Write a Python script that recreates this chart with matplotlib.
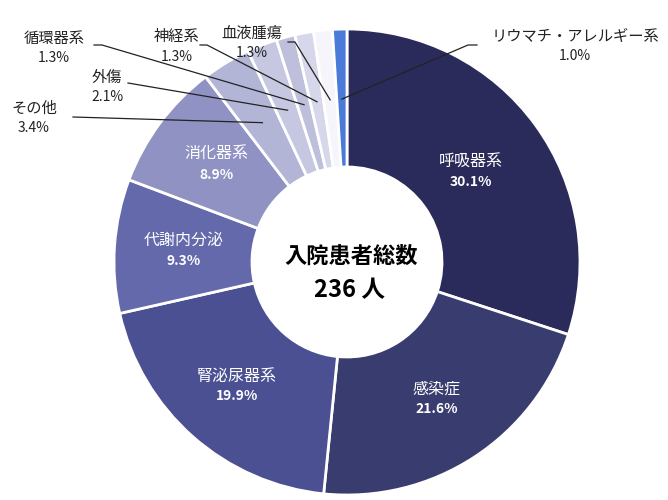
import numpy as np
import matplotlib
matplotlib.use('Agg')
import matplotlib.pyplot as plt

plt.rcParams['font.family'] = ['Noto Sans CJK JP', 'DejaVu Sans']

# 診療科別 入院患者 (%)
categories = ['呼吸器系', '感染症', '腎泌尿器系', '代謝内分泌', '消化器系',
              'その他', '外傷', '循環器系', '神経系', '血液腫瘍',
              'リウマチ・アレルギー系']
shares = [30.1, 21.6, 19.9, 9.3, 8.9, 3.4, 2.1, 1.3, 1.3, 1.3, 1.0]
colors = ['#2B2B5B', '#393C6E', '#4A5091', '#6369AA', '#8F92C3',
          '#B3B5D7', '#C6C8E1', '#BDBFDB', '#D6D7EA', '#F5F5FB', '#4A7BD8']
total_patients = 236

# chart geometry in pixels (figure is 668x500)
W, H = 668, 500
cx, cy = 347, H - 262
r_out, r_in = 233, 95

fig = plt.figure(figsize=(W / 100, H / 100), dpi=100)
ax = fig.add_axes([0, 0, 1, 1])

wedges, _ = ax.pie(shares, colors=colors, startangle=90, counterclock=False,
                   radius=r_out, center=(cx, cy),
                   wedgeprops=dict(width=r_out - r_in, edgecolor='white',
                                   linewidth=2))

def mid_point(w, r):
    a = np.deg2rad((w.theta1 + w.theta2) / 2)
    return cx + r * np.cos(a), cy + r * np.sin(a)

# labels inside the big slices
inner_r = [153, 164, 166, 164, 163]
for i, r in enumerate(inner_r):
    x, y = mid_point(wedges[i], r)
    ax.text(x, y + 10, categories[i], color='white', fontsize=11.5,
            ha='center', va='center')
    ax.text(x, y - 10, f'{shares[i]:.1f}%', color='white', fontsize=10,
            fontweight='bold', ha='center', va='center')

# outside labels: text centre and where its leader line starts (pixels from top)
outer_text = {5: (34, 118), 6: (107, 87), 7: (54, 48), 8: (177, 47),
              9: (252, 43), 10: (575, 46)}
line_start = {5: [(73, 117)], 6: [(128, 83)], 7: [(94, 45), (102, 45)],
              8: [(200, 45), (207, 45)], 9: [(288, 42), (295, 42)],
              10: [(477, 45), (468, 45)]}
for i, (tx, ty) in outer_text.items():
    ax.text(tx, H - ty + 10, categories[i], color='#222222', fontsize=11,
            ha='center', va='center')
    ax.text(tx, H - ty - 10, f'{shares[i]:.1f}%', color='#222222',
            fontsize=10, ha='center', va='center')
    ex, ey = mid_point(wedges[i], 163)
    pts = [(px, H - py) for px, py in line_start[i]] + [(ex, ey)]
    xs, ys = zip(*pts)
    ax.plot(xs, ys, color='#222222', linewidth=0.9)

ax.text(cx + 4, H - 256, '入院患者総数', fontsize=16, fontweight='bold',
        ha='center', va='center', color='black')
ax.text(cx + 2, H - 290, f'{total_patients} 人', fontsize=17, fontweight='bold',
        ha='center', va='center', color='black')

ax.set_xlim(0, W)
ax.set_ylim(0, H)
ax.set_aspect('equal')
ax.axis('off')

fig.savefig('out.png', dpi=100)
